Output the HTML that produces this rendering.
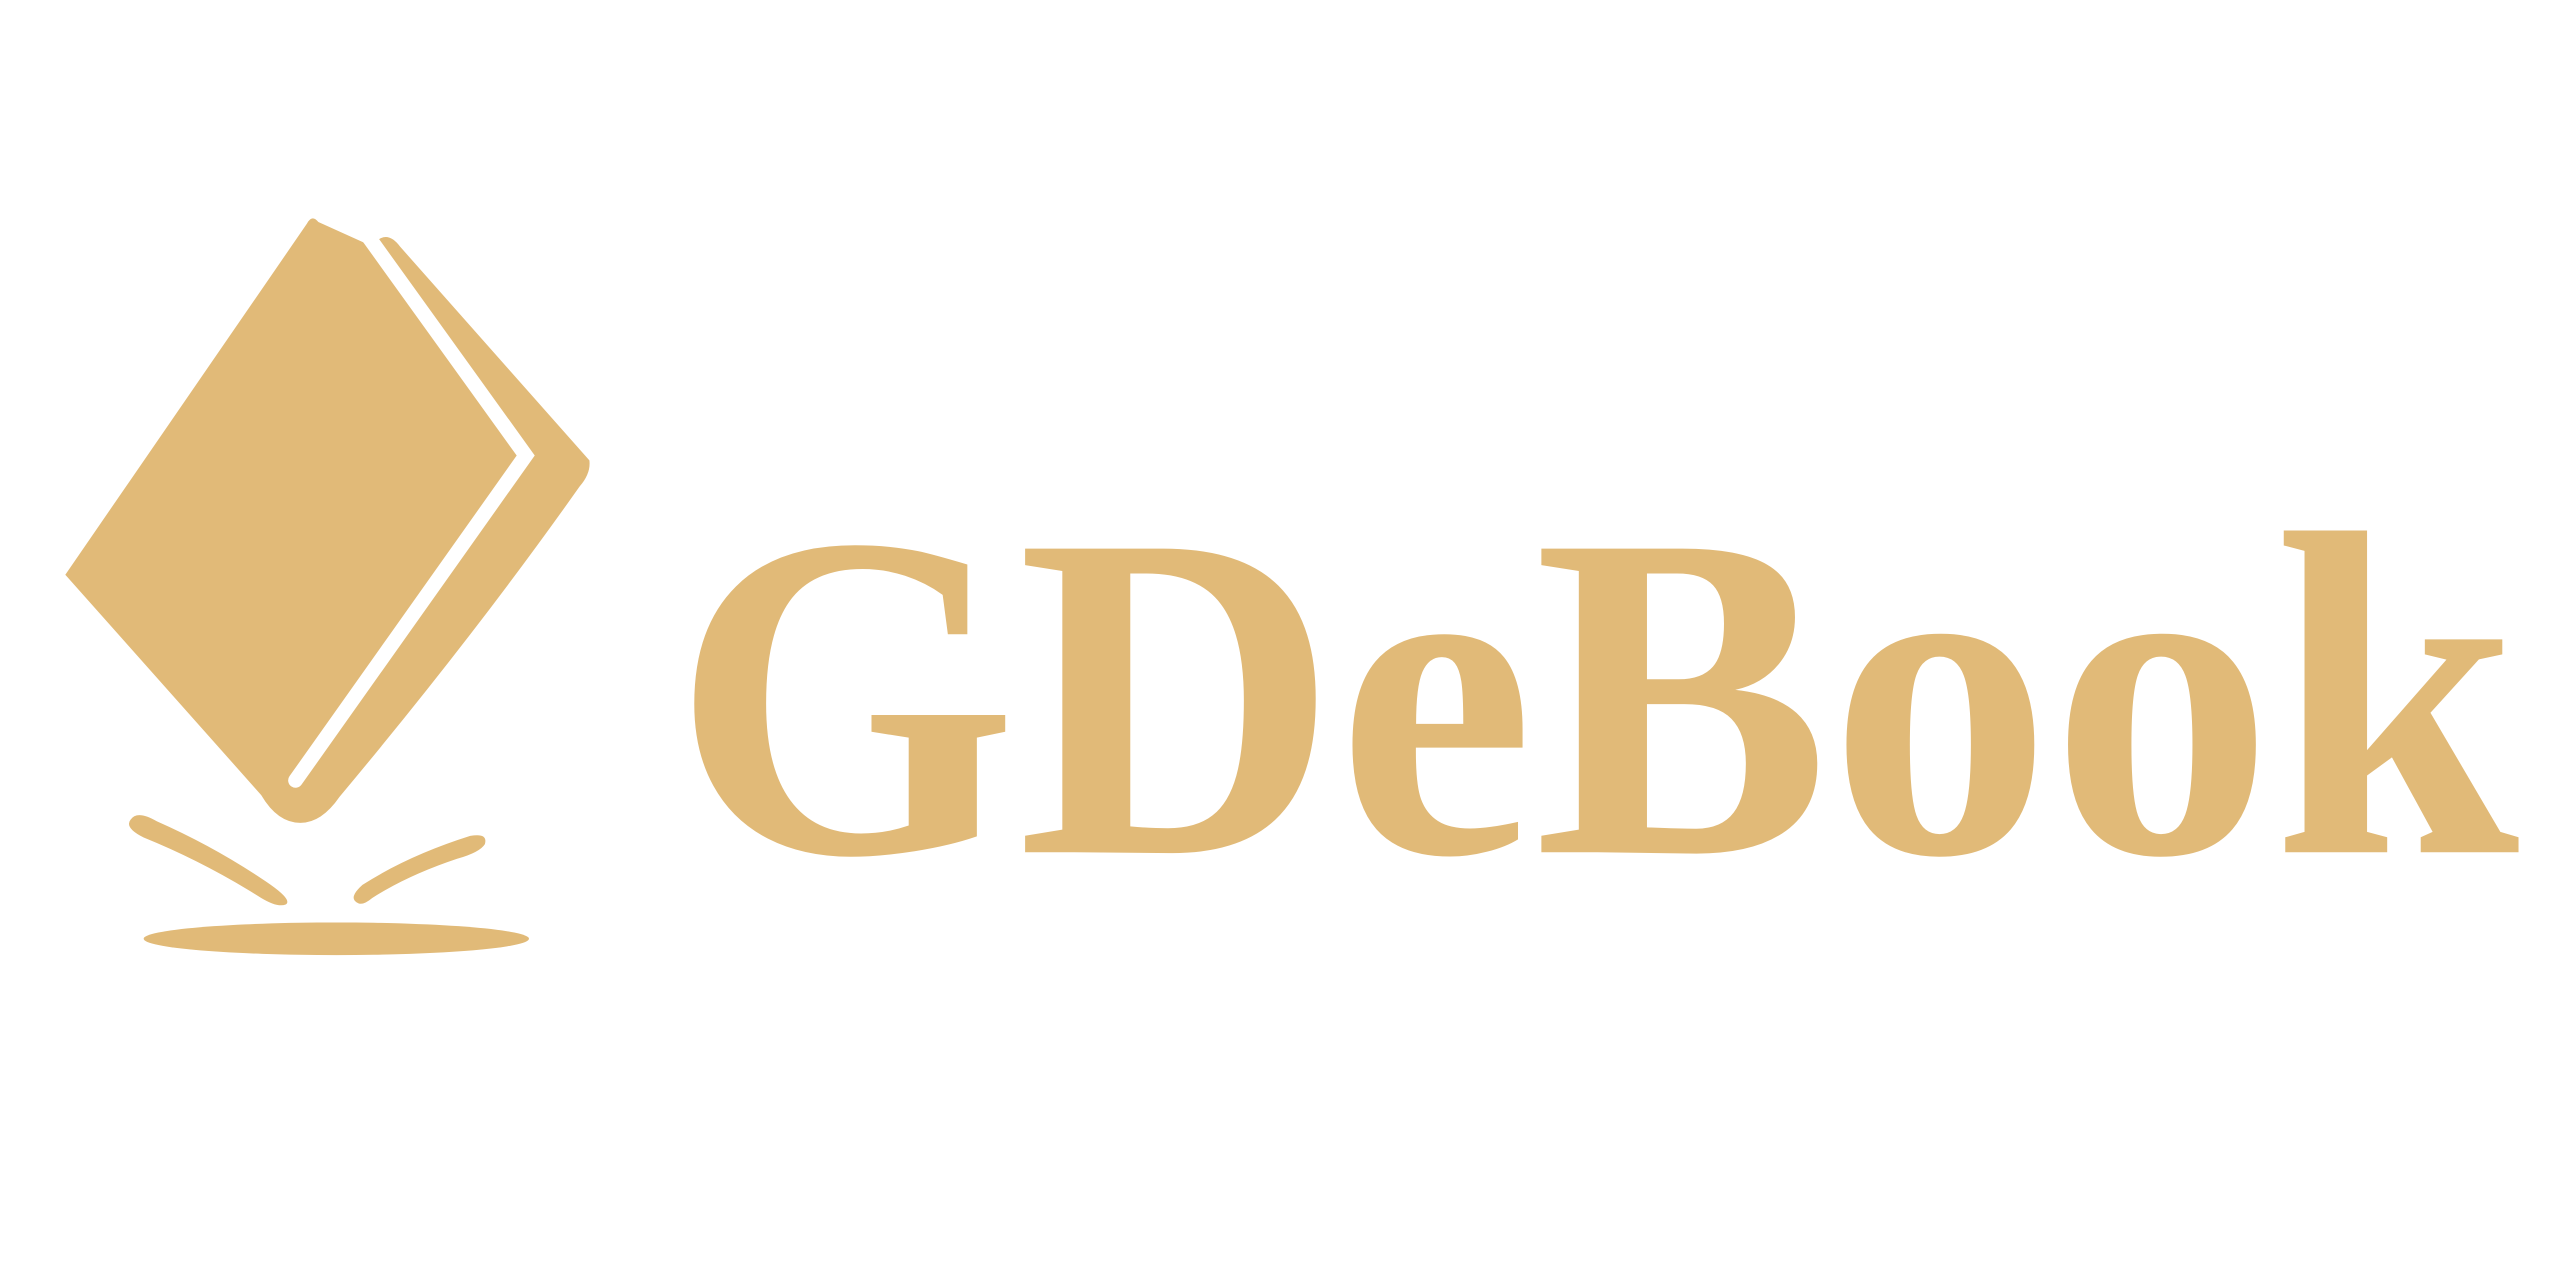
<!DOCTYPE html>
<html><head><meta charset="utf-8"><style>
html,body{margin:0;padding:0;background:#fff;width:2560px;height:1280px;overflow:hidden}
svg{display:block}
.brand{font-family:"Liberation Serif","Times New Roman",serif;font-weight:bold;}
</style></head><body>
<svg width="2560" height="1280" viewBox="0 0 1568 784" preserveAspectRatio="none" xmlns="http://www.w3.org/2000/svg">
<g fill="#E1BA78">
<path d="M188,137 Q191,131 195,136 L226,150 L233,146 Q239,143 245,151 L361,282 Q362,290 355,298 Q290,390 208,488 Q197,504 184,504 Q170,504 160,487 L40,352 Z"/>
<polyline points="222,140 322,279 181,478" fill="none" stroke="#fff" stroke-width="9" stroke-linecap="round" stroke-linejoin="miter"/>
<path d="M80,502 Q84,496 96,503 Q130,518 160,538 Q180,551 175,554 Q170,556 160,550 Q125,528 88,513 Q76,507 80,502 Z"/>
<path d="M219,553 Q213,550 222,542 Q250,524 288,512 Q299,510 297,517 Q294,522 280,526 Q250,536 228,550 Q222,555 219,553 Z"/>
<ellipse cx="206" cy="575" rx="118" ry="10"/>
</g>
<text class="brand" x="412" y="522" fill="#E1BA78" font-size="284" textLength="1131" lengthAdjust="spacingAndGlyphs">GDeBook</text>
</svg>
</body></html>
